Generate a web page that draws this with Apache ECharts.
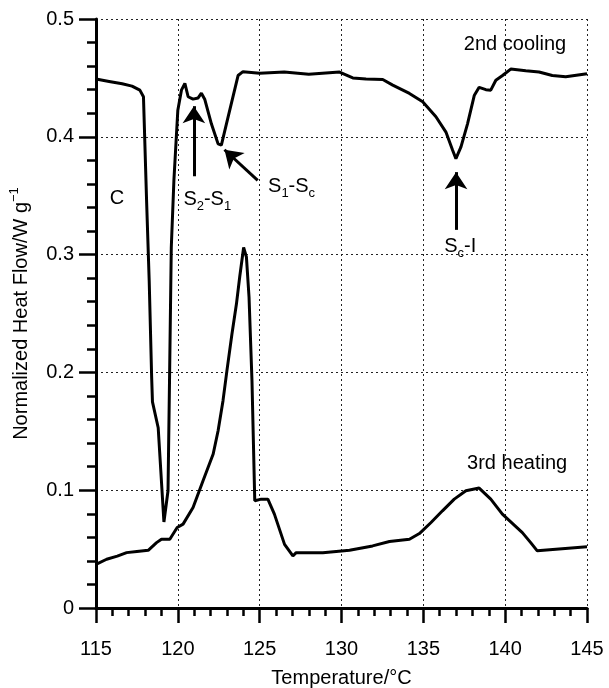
<!DOCTYPE html>
<html>
<head>
<meta charset="utf-8">
<script src="https://cdn.jsdelivr.net/npm/echarts@6/dist/echarts.min.js"></script>
<style>
  html, body { margin: 0; padding: 0; background: #fff; }
  #main { width: 609px; height: 688px; }
</style>
</head>
<body>
<div id="main"></div>
<script>
// 2nd cooling curve (temperature, heat flow)
var coolT = [115, 115.8, 116.6, 117.2, 117.68, 117.9, 118.09, 118.25, 118.4, 118.45, 118.8, 119.15,
  119.4, 119.5, 119.6, 119.76, 120.0, 120.22, 120.43, 120.63, 120.93, 121.24, 121.44, 121.65,
  122.05, 122.46, 122.66, 122.97, 123.68, 123.98, 125, 126.5, 128, 129.88, 130.69, 131.5,
  132.52, 133.13, 134.15, 134.96, 135.77, 136.38, 136.79, 136.99, 137.3, 137.7, 138.11, 138.41,
  138.82, 139.12, 139.43, 139.84, 140.34, 141.26, 142.07, 142.88, 143.7, 145];
var coolV = [0.449, 0.447, 0.445, 0.443, 0.4396, 0.434, 0.346, 0.278, 0.196, 0.175, 0.153, 0.073,
  0.0995, 0.2015, 0.306, 0.363, 0.4226, 0.4396, 0.4453, 0.434, 0.432, 0.433, 0.437, 0.4316,
  0.411, 0.394, 0.393, 0.411, 0.452, 0.4553, 0.454, 0.455, 0.453, 0.455, 0.450, 0.449,
  0.4486, 0.4439, 0.4368, 0.4297, 0.417, 0.404, 0.3886, 0.3815, 0.3915, 0.411, 0.435, 0.442,
  0.440, 0.4396, 0.448, 0.452, 0.4575, 0.456, 0.455, 0.452, 0.451, 0.4536];

// 3rd heating curve
var heatT = [115, 115.65, 116.3, 116.87, 117.5, 118.19, 118.7, 119.0, 119.51, 119.96, 120.32, 120.93,
  121.54, 122.16, 122.46, 122.76, 123.0, 123.3, 123.58, 123.78, 124.02, 124.19, 124.35, 124.53,
  124.7, 125.1, 125.5, 125.9, 126.52, 127.03, 127.23, 128.86, 130.49, 131.9, 132.93, 134.15,
  134.76, 135.47, 136.17, 136.89, 137.6, 138.41, 139.12, 139.83, 141.05, 141.56, 141.96, 145];
var heatV = [0.037, 0.0414, 0.044, 0.047, 0.048, 0.049, 0.0555, 0.0584, 0.0584, 0.0683, 0.0712, 0.0853,
  0.108, 0.1307, 0.1505, 0.176, 0.2015, 0.232, 0.258, 0.281, 0.306, 0.298, 0.264, 0.193,
  0.091, 0.0924, 0.0924, 0.0797, 0.054, 0.0442, 0.047, 0.047, 0.049, 0.0527, 0.0565, 0.0584,
  0.0632, 0.0726, 0.0825, 0.0924, 0.0995, 0.1018, 0.0924, 0.0797, 0.064, 0.0555, 0.0485, 0.052];

// 注释文字 & 箭头 (数据坐标)
var labelText = ['2nd cooling', '3rd heating', 'C', 'S{sub|2}-S{sub|1}', 'S{sub|1}-S{sub|c}', 'S{sub|c}-I'];
var labelPos = [[140.6, 0.478], [140.73, 0.123], [116.28, 0.348], [121.8, 0.347], [126.95, 0.358], [137.25, 0.307]];
var arrowFrom = [[120.98, 0.3665], [124.88, 0.363], [137.0, 0.321]];
var arrowTo = [[120.98, 0.426], [122.85, 0.389], [137.0, 0.370]];

var font = 'Liberation Sans';

function pairs(xs, ys) {
  return xs.map(function (x, i) { return [x, ys[i]]; });
}

var myChart = echarts.init(document.getElementById('main'));
var option = {
  animation: false,
  grid: { left: 96, right: 22, top: 19, bottom: 80, outerBoundsMode: 'none' },
  xAxis: {
    type: 'value',
    min: 115,
    max: 145,
    interval: 5,
    name: 'Temperature/°C',
    nameLocation: 'middle',
    nameGap: 60,
    nameTextStyle: { color: '#000', fontSize: 20, fontFamily: font },
    axisLine: { onZero: false, lineStyle: { color: '#000', width: 3 } },
    axisTick: { length: 15, lineStyle: { color: '#000', width: 2.5 } },
    minorTick: { show: true, splitNumber: 5, length: 8, lineStyle: { color: '#000', width: 2.5 } },
    axisLabel: { color: '#000', fontSize: 20, fontFamily: font, margin: 31 },
    splitLine: { show: true, lineStyle: { color: '#222', width: 1, type: [2, 3] } }
  },
  yAxis: {
    type: 'value',
    min: 0,
    max: 0.5,
    interval: 0.1,
    name: 'Normalized Heat Flow/W g{sup|−1}',
    nameLocation: 'middle',
    nameGap: 61,
    nameRotate: 90,
    nameTextStyle: {
      color: '#000', fontSize: 20, fontFamily: font,
      rich: { sup: { fontSize: 13, fontFamily: font, color: '#000', padding: [0, 0, 14, 0] } }
    },
    axisLine: { lineStyle: { color: '#000', width: 3 } },
    axisTick: { length: 17, lineStyle: { color: '#000', width: 2.5 } },
    minorTick: { show: true, splitNumber: 5, length: 9, lineStyle: { color: '#000', width: 2.5 } },
    axisLabel: { color: '#000', fontSize: 20, fontFamily: font, margin: 22 },
    splitLine: { show: true, lineStyle: { color: '#222', width: 1, type: [2, 3] } }
  },
  series: [
    {
      name: '2nd cooling',
      type: 'line',
      data: pairs(coolT, coolV),
      showSymbol: false,
      lineStyle: { color: '#000', width: 3 },
      markLine: {
        silent: true,
        symbol: ['none', 'arrow'],
        symbolSize: 17,
        label: { show: false },
        lineStyle: { color: '#000', width: 3, type: 'solid' },
        data: arrowFrom.map(function (p, i) {
          return [{ coord: p }, { coord: arrowTo[i] }];
        })
      }
    },
    {
      name: '3rd heating',
      type: 'line',
      data: pairs(heatT, heatV),
      showSymbol: false,
      lineStyle: { color: '#000', width: 3 },
      markPoint: {
        silent: true,
        symbol: 'circle',
        symbolSize: 0,
        label: {
          show: true,
          position: 'inside',
          color: '#000',
          fontSize: 20,
          fontFamily: font,
          rich: { sub: { fontSize: 13, fontFamily: font, color: '#000', padding: [14, 0, 0, 0] } }
        },
        data: labelText.map(function (t, i) {
          return { coord: labelPos[i], value: t, label: { formatter: t } };
        })
      }
    }
  ]
};
myChart.setOption(option);
</script>
</body>
</html>
